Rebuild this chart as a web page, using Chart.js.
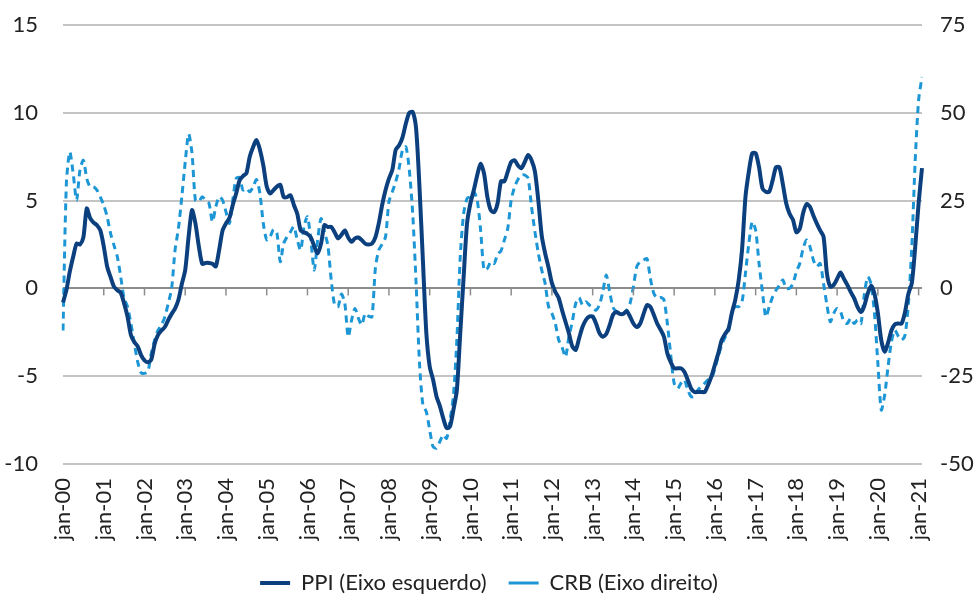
<!DOCTYPE html>
<html>
<head>
<meta charset="utf-8">
<script src="https://cdn.jsdelivr.net/npm/chart.js@4.4.1/dist/chart.umd.min.js"></script>
<style>
  body { margin: 0; background: #fff; }
  #wrap { width: 978px; height: 602px; }
</style>
</head>
<body>
<div id="wrap"><canvas id="chart" width="978" height="602"></canvas></div>
<script>
// monthly, jan-00 .. fev-21
const monthNames = ['jan', 'fev', 'mar', 'abr', 'mai', 'jun', 'jul', 'ago', 'set', 'out', 'nov', 'dez'];

// PPI, % a/a (left axis)
const ppi = [
  -0.8, -0.1, 0.95, 1.8, 2.55, 2.5, 2.9, 4.55, 4.0, 3.75, 3.6, 3.3,          // 2000
  2.4, 1.25, 0.65, 0.1, -0.1, -0.25, -0.85, -1.6, -2.65, -3.05, -3.3, -3.8, // 2001
  -4.1, -4.2, -4.05, -3.15, -2.65, -2.4, -2.2, -1.8, -1.45, -1.15, -0.65, 0.25, // 2002
  1.05, 2.95, 4.45, 3.7, 2.4, 1.4, 1.45, 1.45, 1.4, 1.25, 2.2, 3.3,         // 2003
  3.7, 4.0, 4.75, 5.4, 6.15, 6.4, 6.55, 7.5, 8.05, 8.45, 7.9, 7.0,          // 2004
  5.8, 5.4, 5.6, 5.8, 5.9, 5.2, 5.2, 5.3, 4.75, 4.25, 3.3, 3.2,             // 2005
  3.1, 2.9, 2.4, 2.0, 2.55, 3.6, 3.5, 3.5, 3.2, 2.85, 3.05, 3.3,            // 2006
  2.9, 2.65, 2.85, 2.9, 2.75, 2.55, 2.5, 2.55, 2.9, 3.7, 4.75, 5.6,         // 2007
  6.25, 6.75, 7.9, 8.15, 8.6, 9.4, 10.0, 10.05, 9.1, 5.75, 1.6, -2.5,       // 2008
  -4.45, -5.2, -6.15, -6.7, -7.4, -7.95, -7.85, -6.9, -5.8, -2.55, 0.65, 3.7, // 2009
  4.85, 5.6, 6.45, 7.1, 6.55, 5.2, 4.45, 4.35, 4.85, 6.1, 6.1, 6.65,        // 2010
  7.2, 7.3, 7.0, 6.85, 7.2, 7.6, 7.3, 6.65, 5.0, 3.0, 2.0, 1.2,             // 2011
  0.3, -0.2, -0.55, -1.25, -1.9, -2.55, -3.3, -3.5, -2.85, -2.2, -1.8, -1.6, // 2012
  -1.6, -2.0, -2.55, -2.75, -2.6, -2.1, -1.5, -1.35, -1.45, -1.45, -1.3, -1.6, // 2013
  -2.0, -2.2, -2.0, -1.45, -0.95, -1.05, -1.5, -2.0, -2.35, -2.75, -3.7, -4.2, // 2014
  -4.55, -4.55, -4.55, -4.75, -5.2, -5.7, -5.9, -5.9, -5.9, -5.9, -5.5, -5.0, // 2015
  -4.35, -3.7, -2.95, -2.6, -2.3, -1.4, -0.65, 0.45, 2.2, 5.2, 6.65, 7.7,   // 2016
  7.7, 6.9, 5.7, 5.5, 5.5, 6.15, 6.9, 6.9, 5.95, 4.85, 4.25, 3.9,           // 2017
  3.2, 3.4, 4.3, 4.8, 4.65, 4.15, 3.7, 3.3, 2.95, 0.85, 0.1, 0.2,           // 2018
  0.55, 0.9, 0.55, 0.2, -0.2, -0.55, -1.05, -1.35, -1.0, -0.3, 0.15, -0.3,  // 2019
  -1.4, -2.95, -3.6, -3.1, -2.4, -2.05, -2.0, -2.0, -1.35, -0.3, 0.3, 2.35, // 2020
  4.85, 6.85                                                               // 2021
];

// CRB, % a/a (right axis)
const crb = [
  -12, 30, 38.9, 32.7, 25.1, 33.7, 36.5, 31.3, 28.9, 28.9, 28, 26,
  23.7, 20.4, 15.7, 12.3, 9, 3.3, -2.8, -5.2, -10, -15.7, -20.9, -24,
  -24.2, -23.7, -18.5, -14.7, -11.9, -10.4, -8.1, -4.3, 0, 10.9, 17.1, 26.1,
  36, 44, 38.4, 25.1, 24.7, 26.1, 25.1, 24.2, 19, 23.2, 26.1, 25.1,
  21.8, 18.5, 25.1, 31.3, 31.6, 28, 28.5, 27.5, 28.9, 31, 27, 18.5,
  13.8, 14.7, 16.8, 15.7, 7.6, 12.8, 14.7, 16.1, 17.6, 13.8, 10.9, 17.6,
  20.4, 13.8, 5.2, 13.8, 19.9, 16.1, 12.3, 2.4, -4.7, -5.2, -1.6, -4.3,
  -13.8, -9, -5.7, -8.5, -10.4, -7.1, -7.9, -8.1, 5.7, 10.9, 12.6, 14.7,
  24.7, 27.5, 30.4, 34.2, 39.4, 40.3, 33.7, 21.3, 1.4, -21.3, -33.2, -35.1,
  -40.3, -45.1, -45.5, -43.6, -41.7, -42.7, -37.5, -30.4, -14.7, 9, 21.3, 25.6,
  26.1, 27.5, 25.1, 16.6, 5.2, 5.7, 7.6, 7.1, 9.7, 10.7, 13.8, 17.1,
  25.1, 28.9, 31, 32.3, 32.3, 31.3, 23.2, 16.1, 10, 5.2, 1.4, -5.2,
  -7.1, -10, -14.7, -16.8, -19.5, -13.8, -9.5, -4.3, -2.6, -4.7, -3.8, -4.7,
  -5.7, -6.2, -4.7, -0.9, 3.8, -0.9, -5.4, -6.6, -7.1, -7.1, -6.2, -4.3,
  0.5, 6.2, 7.6, 8.1, 8.5, 2.8, -1.4, -2.8, -2.6, -3.3, -10, -19,
  -27, -28.5, -27, -26, -28.9, -30.8, -30.8, -28.9, -28, -27, -26, -25.6,
  -22.8, -19.3, -16.1, -13.9, -12.3, -7.1, -5.2, -5.2, -3.8, 4.3, 12.8, 19,
  16.6, 7.1, -0.9, -8.1, -5.2, -2.4, -0.5, 0.9, 2.4, 0, 0, 1.4,
  4.7, 7.1, 11.4, 13.8, 11.9, 8.1, 6.2, 7.1, 1.4, -4.7, -9.5, -7.1,
  -5.7, -6.6, -9.5, -10, -8.5, -10, -9, -10, -1.9, 3.3, 1.2, -7.1,
  -21.3, -34.6, -30.4, -22.3, -15.2, -11.9, -13.6, -14.7, -13.3, -4.3, 11.9, 36.5,
  53.6, 60.2
];

const leftTicks = [-10, -5, 0, 5, 10, 15];
const rightTicks = [-50, -25, 0, 25, 50, 75];

// category labels: mmm-yy
const labels = [];
for (let i = 0; i < ppi.length; i++) {
  const yy = String(i / 12 | 0).padStart(2, '0');
  labels.push(monthNames[i % 12] + '-' + yy);
}

const FONT = 'Lato, "Open Sans", sans-serif';
const FS = 22;

// small tick marks on the zero line, at every january
const zeroTicks = {
  id: 'zeroTicks',
  afterDraw(chart) {
    const x = chart.scales.x, y = chart.scales.y;
    const y0 = y.getPixelForValue(0);
    const ctx = chart.ctx;
    ctx.save();
    ctx.strokeStyle = '#8c8c8c';
    ctx.lineWidth = 1.5;
    labels.forEach((l, i) => {
      if (!l.startsWith('jan') || i === 0) return;
      const px = x.getPixelForValue(i);
      ctx.beginPath();
      ctx.moveTo(px, y0);
      ctx.lineTo(px, y0 + 7);
      ctx.stroke();
    });
    ctx.restore();
  }
};

new Chart(document.getElementById('chart'), {
  type: 'line',
  data: {
    labels: labels,
    datasets: [
      {
        label: 'PPI (Eixo esquerdo)',
        data: ppi,
        yAxisID: 'y',
        borderColor: '#0b3f7d',
        backgroundColor: '#0b3f7d',
        borderWidth: 4,
        pointRadius: 0,
        tension: 0.25,
        order: 1
      },
      {
        label: 'CRB (Eixo direito)',
        data: crb,
        yAxisID: 'y1',
        borderColor: '#1d96d6',
        backgroundColor: '#1d96d6',
        borderWidth: 3,
        borderDash: [7, 5],
        pointRadius: 0,
        tension: 0.25,
        order: 2
      }
    ]
  },
  options: {
    responsive: false,
    animation: false,
    layout: { padding: { top: 25, left: 0, right: 0, bottom: 0 } },
    plugins: {
      tooltip: { enabled: false },
      legend: {
        position: 'bottom',
        maxHeight: 52,
        labels: {
          usePointStyle: true,
          pointStyle: 'line',
          pointStyleWidth: 30,
          boxWidth: 30,
          boxHeight: 12,
          padding: 22,
          color: '#222',
          font: { family: FONT, size: FS }
        }
      }
    },
    scales: {
      x: {
        grid: { display: false },
        border: { display: false },
        afterFit(scale) { scale.height = 86; },
        ticks: {
          autoSkip: false,
          minRotation: 90,
          maxRotation: 90,
          padding: 6,
          color: '#222',
          font: { family: FONT, size: FS },
          callback(value) {
            const l = this.getLabelForValue(value);
            return l.startsWith('jan') ? l : null;
          }
        }
      },
      y: {
        position: 'left',
        min: -10,
        max: 15,
        afterFit(scale) { scale.width = 63; },
        afterBuildTicks(scale) { scale.ticks = leftTicks.map(v => ({ value: v })); },
        border: { display: false },
        grid: {
          drawTicks: true,
          tickLength: 25,
          tickColor: 'rgba(0,0,0,0)',
          lineWidth: 2,
          color: c => c.tick && c.tick.value === 0 ? '#8c8c8c' : '#c4c4c4'
        },
        ticks: {
          padding: 0,
          color: '#222',
          font: { family: FONT, size: FS }
        }
      },
      y1: {
        position: 'right',
        min: -50,
        max: 75,
        afterFit(scale) { scale.width = 56; },
        afterBuildTicks(scale) { scale.ticks = rightTicks.map(v => ({ value: v })); },
        border: { display: false },
        grid: {
          drawOnChartArea: false,
          drawTicks: true,
          tickLength: 18,
          tickColor: 'rgba(0,0,0,0)'
        },
        ticks: {
          padding: 0,
          color: '#222',
          font: { family: FONT, size: FS }
        }
      }
    }
  },
  plugins: [zeroTicks]
});
</script>
</body>
</html>
